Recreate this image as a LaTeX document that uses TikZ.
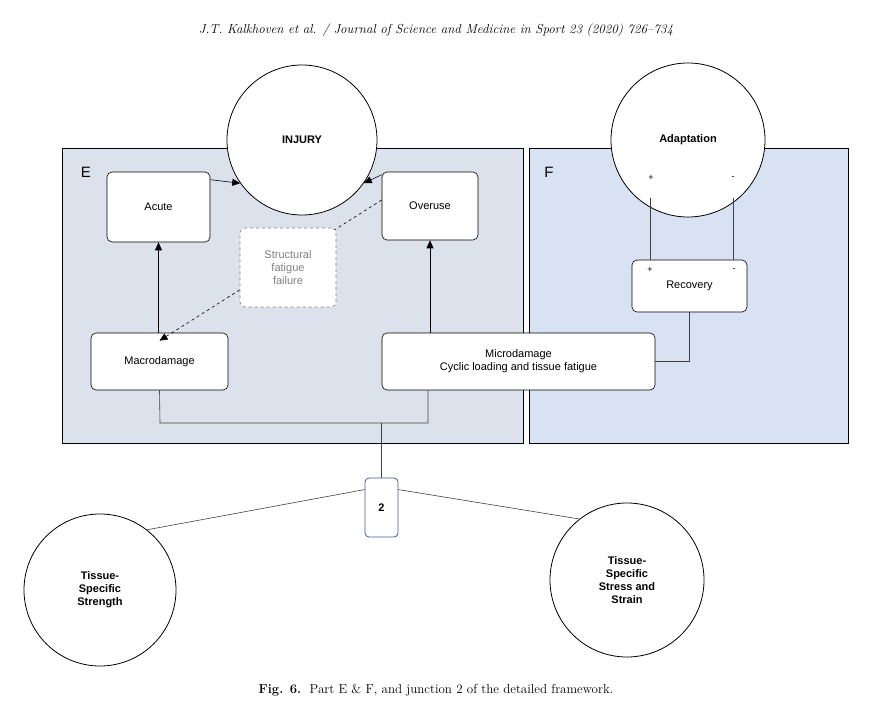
\documentclass[tikz,border=0pt]{standalone}
\usepackage{fontspec}
\setsansfont{Liberation Sans}
\usepackage{tikz}
\usetikzlibrary{arrows.meta,positioning}

\definecolor{panelE}{HTML}{DCE2EC}
\definecolor{panelF}{HTML}{D9E2F3}
\definecolor{junc}{HTML}{3C5E96}
\definecolor{wire}{HTML}{404040}

\tikzset{
  box/.style={draw, rounded corners=5pt, fill=white, inner sep=0pt, align=center, font=\sffamily\fontsize{11}{13}\selectfont},
  ball/.style={draw, thick, circle, fill=white, inner sep=0pt, align=center, font=\sffamily\bfseries\fontsize{11}{13}\selectfont},
  arr/.style={-{Triangle[length=8pt,width=7pt]}},
}

\begin{document}
\begin{tikzpicture}[x=1pt,y=-1pt, semithick]
\useasboundingbox (0,0) rectangle (872,719);

% Header and caption
\node at (436,30) {\fontsize{13}{15}\selectfont\itshape J.T. Kalkhoven et al. / Journal of Science and Medicine in Sport 23 (2020) 726--734};
\node at (436,690) {\fontsize{13}{15}\selectfont\textbf{Fig. 6.}\ \ Part E \& F, and junction 2 of the detailed framework.};

% Panels
\draw[thick, fill=panelE] (62,148) rectangle (523,443);
\draw[thick, fill=panelF] (529,148) rectangle (848,443);
\node[font=\sffamily\fontsize{15}{17}\selectfont] (labE) at (86,172) {E};
\node[font=\sffamily\fontsize{15}{17}\selectfont] (labF) at (549,172) {F};

% Circles
\node[ball, minimum size=150pt] (injury) at (302,140) {INJURY};
\node[ball, minimum size=154pt] (adapt) at (688,140) {Adaptation};
\node[ball, minimum size=152pt] (strength) at (100,590) {Tissue-\\Specific\\Strength};
\node[ball, minimum size=154pt] (stress) at (627,580) {Tissue-\\Specific\\Stress and\\Strain};

% Boxes
\node[box, minimum width=103pt, minimum height=70pt] (acute) at (158.5,207) {Acute};
\node[box, minimum width=96pt, minimum height=68pt] (overuse) at (430,206) {Overuse};
\node[box, minimum width=137pt, minimum height=57pt] (macro) at (159.5,361.5) {Macrodamage};
\node[box, minimum width=273pt, minimum height=57pt] (micro) at (518.5,361.5) {Microdamage\\Cyclic loading and tissue fatigue};
\node[box, minimum width=115pt, minimum height=52pt] (recov) at (689.5,286) {Recovery};
\node[box, draw=junc, thick, rounded corners=4pt, font=\sffamily\bfseries\fontsize{11}{13}\selectfont, minimum width=33pt, minimum height=59pt] (j2) at (381.5,507.5) {2};

% Signs
\node[font=\sffamily\fontsize{9}{10}\selectfont] at (651,178) {+};
\node[font=\sffamily\fontsize{9}{10}\selectfont] at (733,178) {-};
\node[font=\sffamily\fontsize{9}{10}\selectfont] at (650,270) {+};
\node[font=\sffamily\fontsize{9}{10}\selectfont] at (734,270) {-};

% Arrows into injury
\draw[arr] (macro.north -| acute.south) -- (acute.south);
\draw[arr] (acute.north east) ++(0,8) -- (injury.-145);
\draw[arr] (overuse.north west) ++(0,3) -- (injury.-35);
\draw[arr] (micro.north -| overuse.south) -- (overuse.south);
\draw[arr, dashed] (overuse.west) ++(0,-6) -- ([yshift=-8pt]macro.north);
\node[box, draw=gray, dashed, text=gray, minimum width=96pt, minimum height=79pt] (sff) at (288,267.5) {Structural\\fatigue\\failure};

% Adaptation and recovery
\coordinate (ap) at (650,198);
\coordinate (am) at (733,198);
\draw[wire] (ap) -- (recov.north -| ap);
\draw[wire] (am) -- (recov.north -| am);
\draw[wire] (recov.south) |- (micro.east);

% Junction 2
\coordinate (jm) at (160,423);
\coordinate (jo) at (428,423);
\draw[wire] (macro.south) -- (jm) -- (jo) -- (micro.south -| jo);
\draw[wire] (jm -| j2.north) -- (j2.north);
\draw[wire] (j2.north west) ++(0,12) -- (strength.52);
\draw[wire] (j2.north east) ++(0,12) -- (stress.128);
\end{tikzpicture}
\end{document}
